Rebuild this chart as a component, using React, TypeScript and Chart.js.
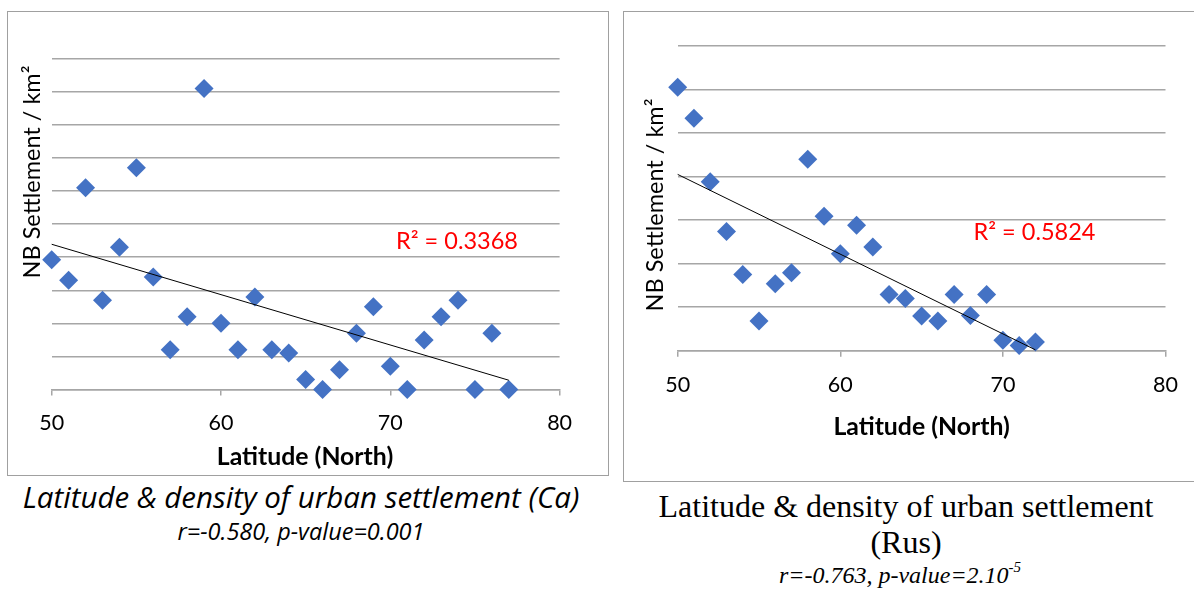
import React, { useEffect, useRef } from 'react';
import { Chart, registerables } from 'chart.js';

Chart.register(...registerables);

// ---- Data ----
const caLatitude = [50, 51, 52, 53, 54, 55, 56, 57, 58, 59, 60, 61, 62, 63, 64, 65, 66, 67, 68, 69, 70, 71, 72, 73, 74, 75, 76, 77];
const caDensity = [3.92, 3.3, 6.1, 2.7, 4.3, 6.7, 3.4, 1.2, 2.2, 9.1, 2.0, 1.2, 2.8, 1.2, 1.1, 0.3, 0.0, 0.6, 1.7, 2.5, 0.7, 0.0, 1.5, 2.2, 2.7, 0.0, 1.7, 0.0];
const caTrendLatitude = [50, 77];
const caTrendDensity = [4.39, 0.28];
const caR2 = 'R² = 0.3368';

const rusLatitude = [50, 51, 52, 53, 54, 55, 56, 57, 58, 59, 60, 61, 62, 63, 64, 65, 66, 67, 68, 69, 70, 71, 72];
const rusDensity = [6.05, 5.34, 3.88, 2.74, 1.75, 0.68, 1.54, 1.79, 4.4, 3.09, 2.23, 2.88, 2.38, 1.29, 1.2, 0.8, 0.68, 1.29, 0.81, 1.29, 0.24, 0.12, 0.2];
const rusTrendLatitude = [50, 72];
const rusTrendDensity = [4.05, 0.02];
const rusR2 = 'R² = 0.5824';

const xTickValues = [50, 60, 70, 80];
const caYMax = 10;
const rusYMax = 7;

const yTitle = 'NB Settlement / km²';
const xTitle = 'Latitude (North)';

const SANS = 'Lato, "Open Sans", sans-serif';
const CAPTION_SANS = '"Open Sans", Lato, sans-serif';
const SERIF = '"Liberation Serif", "Times New Roman", serif';
const GRID = '#a6a6a6';
const MARKER = '#4472C4';

type TextItem = { text: string; x: number; y: number; font: string; color: string; rotate?: number };

function textPlugin(items: TextItem[]) {
  return {
    id: 'textItems',
    afterDraw(chart: any) {
      const ctx = chart.ctx as CanvasRenderingContext2D;
      for (const it of items) {
        ctx.save();
        ctx.translate(it.x, it.y);
        if (it.rotate) ctx.rotate(it.rotate);
        ctx.font = it.font;
        ctx.fillStyle = it.color;
        ctx.textAlign = 'center';
        ctx.textBaseline = 'middle';
        ctx.fillText(it.text, 0, 0);
        ctx.restore();
      }
    },
  };
}

type Cfg = {
  lat: number[];
  dens: number[];
  trendLat: number[];
  trendDens: number[];
  yMax: number;
  padTop: number;
  padRight: number;
  yWidth: number;
  xHeight: number;
  items: TextItem[];
};

function makeConfig(c: Cfg): any {
  return {
    type: 'scatter',
    data: {
      datasets: [
        {
          data: c.lat.map((x, i) => ({ x, y: c.dens[i] })),
          pointStyle: 'rectRot',
          pointRadius: 9.5,
          pointHoverRadius: 9.5,
          backgroundColor: MARKER,
          borderColor: MARKER,
          borderWidth: 0,
          clip: false,
          order: 1,
        },
        {
          data: c.trendLat.map((x, i) => ({ x, y: c.trendDens[i] })),
          showLine: true,
          borderColor: '#000000',
          borderWidth: 1,
          pointRadius: 0,
          pointHoverRadius: 0,
          fill: false,
          clip: false,
          order: 0,
        },
      ],
    },
    options: {
      responsive: false,
      animation: false,
      events: [],
      layout: { padding: { top: c.padTop, right: c.padRight, left: 0, bottom: 0 } },
      plugins: { legend: { display: false }, tooltip: { enabled: false } },
      scales: {
        x: {
          type: 'linear',
          min: 50,
          max: 80,
          afterBuildTicks: (s: any) => {
            s.ticks = xTickValues.map((v) => ({ value: v }));
          },
          ticks: {
            font: { family: SANS, size: 21.5 },
            color: '#000000',
            padding: 15,
            maxRotation: 0,
            autoSkip: false,
          },
          grid: { drawOnChartArea: false, drawTicks: true, tickLength: 6, color: GRID, lineWidth: 1.5 },
          border: { display: true, color: GRID, width: 1.5 },
          afterFit: (s: any) => {
            s.height = c.xHeight;
          },
        },
        y: {
          type: 'linear',
          min: 0,
          max: c.yMax,
          ticks: { display: false, stepSize: 1 },
          grid: { color: GRID, lineWidth: 1.5, drawTicks: false },
          border: { display: false },
          afterFit: (s: any) => {
            s.width = c.yWidth;
          },
        },
      },
    },
    plugins: [textPlugin(c.items)],
  };
}

function ChartCanvas({ cfg, left, top, width, height }: { cfg: Cfg; left: number; top: number; width: number; height: number }) {
  const ref = useRef<HTMLCanvasElement | null>(null);
  useEffect(() => {
    if (!ref.current) return;
    const chart = new Chart(ref.current, makeConfig(cfg));
    return () => chart.destroy();
  }, []);
  return (
    <canvas
      ref={ref}
      width={width}
      height={height}
      style={{ position: 'absolute', left, top, width, height }}
    />
  );
}

const titleFont = `23.5px ${SANS}`;
const xTitleFont = `bold 24.8px ${SANS}`;
const r2Font = `23.5px ${SANS}`;

const caCfg: Cfg = {
  lat: caLatitude,
  dens: caDensity,
  trendLat: caTrendLatitude,
  trendDens: caTrendDensity,
  yMax: caYMax,
  padTop: 46.7,
  padRight: 47.4,
  yWidth: 43.7,
  xHeight: 84.5,
  items: [
    { text: yTitle, x: 24.5, y: 160, font: titleFont, color: '#000', rotate: -Math.PI / 2 },
    { text: xTitle, x: 297, y: 445, font: xTitleFont, color: '#000' },
    { text: caR2, x: 449, y: 229.7, font: r2Font, color: '#ff0000' },
  ],
};

const rusCfg: Cfg = {
  lat: rusLatitude,
  dens: rusDensity,
  trendLat: rusTrendLatitude,
  trendDens: rusTrendDensity,
  yMax: rusYMax,
  padTop: 34,
  padRight: 28.5,
  yWidth: 53.7,
  xHeight: 130.3,
  items: [
    { text: yTitle, x: 31.5, y: 193, font: titleFont, color: '#000', rotate: -Math.PI / 2 },
    { text: xTitle, x: 297.6, y: 414.7, font: xTitleFont, color: '#000' },
    { text: rusR2, x: 410.5, y: 220.7, font: r2Font, color: '#ff0000' },
  ],
};

export default function App() {
  return (
    <div style={{ position: 'absolute', left: 0, top: 0, width: 1194, height: 589, background: '#ffffff', overflow: 'hidden' }}>
      <div style={{ position: 'absolute', left: 7, top: 11, width: 600, height: 463, border: '1px solid #a0a0a0' }} />
      <div style={{ position: 'absolute', left: 623, top: 11, width: 620, height: 469, border: '1px solid #a0a0a0' }} />
      <ChartCanvas cfg={caCfg} left={8} top={12} width={599} height={462} />
      <ChartCanvas cfg={rusCfg} left={624} top={12} width={570} height={469} />

      <div style={{ position: 'absolute', left: 0, top: 478, width: 602, textAlign: 'center', fontFamily: CAPTION_SANS, fontStyle: 'italic', fontSize: 29.5, lineHeight: '38px', color: '#000', whiteSpace: 'nowrap' }}>
        Latitude &amp; density of urban settlement (Ca)
      </div>
      <div style={{ position: 'absolute', left: 0, top: 516, width: 602, textAlign: 'center', fontFamily: CAPTION_SANS, fontStyle: 'italic', fontSize: 23.5, lineHeight: '30px', color: '#000', whiteSpace: 'nowrap' }}>
        r=-0.580, p-value=0.001
      </div>

      <div style={{ position: 'absolute', left: 506, top: 488, width: 800, textAlign: 'center', fontFamily: SERIF, fontSize: 32, lineHeight: '36px', color: '#000', whiteSpace: 'nowrap' }}>
        Latitude &amp; density of urban settlement
      </div>
      <div style={{ position: 'absolute', left: 506, top: 524, width: 800, textAlign: 'center', fontFamily: SERIF, fontSize: 32, lineHeight: '36px', color: '#000', whiteSpace: 'nowrap' }}>
        (Rus)
      </div>
      <div style={{ position: 'absolute', left: 500, top: 561, width: 800, textAlign: 'center', fontFamily: SERIF, fontStyle: 'italic', fontSize: 24, lineHeight: '28px', color: '#000', whiteSpace: 'nowrap' }}>
        r=-0.763, p-value=2.10<sup style={{ fontSize: 15, verticalAlign: 'top', lineHeight: '15px', position: 'relative', top: -1 }}>-5</sup>
      </div>
    </div>
  );
}
